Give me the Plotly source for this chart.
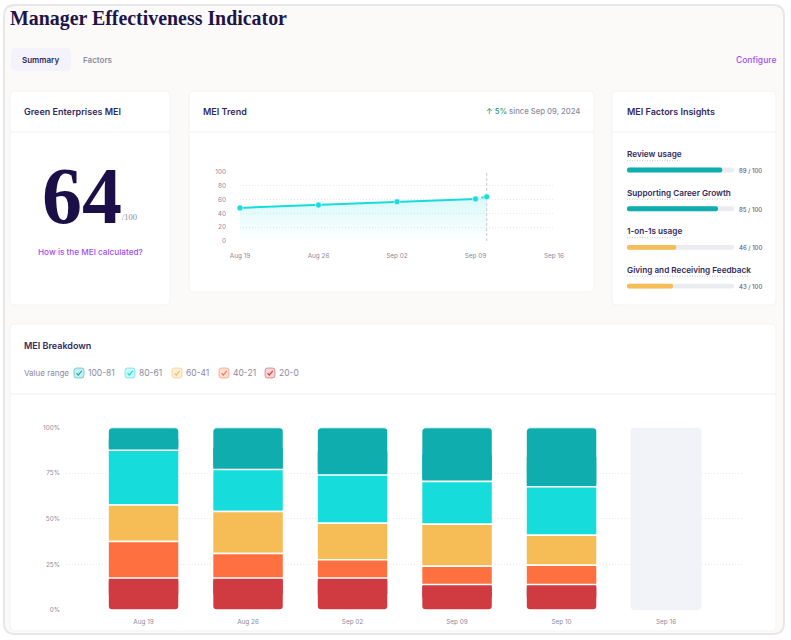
import plotly.graph_objects as go

# ---------- data ----------
trend_dates = ["2024-08-19", "2024-08-26", "2024-09-02", "2024-09-09", "2024-09-10"]
trend_values = [48, 52, 57, 61, 64]
trend_tick_dates = ["2024-08-19", "2024-08-26", "2024-09-02", "2024-09-09", "2024-09-16"]
trend_tick_labels = ["Aug 19", "Aug 26", "Sep 02", "Sep 09", "Sep 16"]
trend_y_ticks = [0, 20, 40, 60, 80, 100]

factor_names = ["Review usage", "Supporting Career Growth", "1-on-1s usage", "Giving and Receiving Feedback"]
factor_values = [89, 85, 46, 43]
factor_max = [100, 100, 100, 100]

weeks = ["Aug 19", "Aug 26", "Sep 02", "Sep 09", "Sep 10", "Sep 16"]
range_100_81 = [12.5, 23, 26, 29.5, 32.5, None]
range_80_61 = [30, 23, 26.5, 23.5, 26.5, None]
range_60_41 = [20, 23, 20, 23, 16.5, None]
range_40_21 = [20, 13.5, 10, 10, 10.5, None]
range_20_0 = [17.5, 17.5, 17.5, 14, 14, None]
no_data = [None, None, None, None, None, 100]
pct_ticks = [0, 25, 50, 75, 100]
pct_labels = ["0%", "25%", "50%", "75%", "100%"]
range_names = ["100-81", "80-61", "60-41", "40-21", "20-0"]

# ---------- style ----------
W, H = 791, 640
INK = "#1d1547"
HEAD = "#322a5c"
GREY = "#8b8aa1"
PURPLE = "#a24df0"
TEAL = "#0fadae"
CYAN = "#16dddc"
YELLOW = "#f6bc55"
ORANGE = "#ff7040"
RED = "#d03a41"
TRACK = "#eaecf0"
GRID = "#e8e8ee"
SANS = "Inter"
SERIF = "Liberation Serif"
range_colors = [TEAL, CYAN, YELLOW, ORANGE, RED]


def px(x):
    return x / W


def py(y):
    return 1 - y / H


def rgba(hex_color, a):
    r, g, b = int(hex_color[1:3], 16), int(hex_color[3:5], 16), int(hex_color[5:7], 16)
    return f"rgba({r},{g},{b},{a})"


def rrect(x0, y0, x1, y1, r, fill, line="rgba(0,0,0,0)", lw=1):
    X0, X1, Y0, Y1 = px(x0), px(x1), py(y0), py(y1)
    rx, ry = r / W, r / H
    path = (
        f"M {X0+rx} {Y0} L {X1-rx} {Y0} Q {X1} {Y0} {X1} {Y0-ry} "
        f"L {X1} {Y1+ry} Q {X1} {Y1} {X1-rx} {Y1} L {X0+rx} {Y1} "
        f"Q {X0} {Y1} {X0} {Y1+ry} L {X0} {Y0-ry} Q {X0} {Y0} {X0+rx} {Y0} Z"
    )
    return dict(type="path", xref="paper", yref="paper", path=path, fillcolor=fill,
                line=dict(color=line, width=lw), layer="below")


def hline(x0, x1, y, color="#f1f0f0", width=1, dash="solid"):
    return dict(type="line", xref="paper", yref="paper", x0=px(x0), x1=px(x1), y0=py(y), y1=py(y),
                line=dict(color=color, width=width, dash=dash), layer="below")


def txt(x, y, s, size=9, color=HEAD, weight=400, family=SANS, anchor="left"):
    return dict(xref="paper", yref="paper", x=px(x), y=py(y), text=s, showarrow=False,
                xanchor=anchor, yanchor="middle", align=anchor,
                font=dict(size=size, color=color, family=family, weight=weight),
                borderpad=0, borderwidth=0)


shapes = [rrect(4, 5, 784, 634, 11, "#fcfaf8", "#e7e7e8", 2)]
for x0, y0, x1, y1 in [(10, 91, 170, 305), (189, 91, 594, 292), (612, 91, 776, 305), (10, 324, 776, 631)]:
    shapes.append(rrect(x0, y0, x1, y1, 5, "#ffffff", "#f5f3f1", 1))
shapes += [hline(10, 170, 132), hline(189, 594, 132), hline(612, 776, 132), hline(10, 776, 394)]
shapes.append(rrect(11, 48, 71, 71, 5, "#f4f2fb"))

annotations = [
    txt(10, 19, "Manager Effectiveness Indicator", 19.9, INK, 700, SERIF),
    txt(22, 60, "Summary", 8, HEAD, 600),
    txt(83, 60, "Factors", 8, GREY, 600),
    txt(776, 60, "Configure", 8.5, PURPLE, 500, anchor="right"),
    txt(24, 111, "Green Enterprises MEI", 9, HEAD, 600),
    txt(203, 111, "MEI Trend", 9, HEAD, 600),
    txt(627, 111, "MEI Factors Insights", 9, HEAD, 600),
    txt(81.5, 196, "64", 80, "#1c0f48", 700, SERIF, "center"),
    txt(122, 217, "/100", 8.5, GREY, 400, SERIF),
    txt(90, 252, "How is the MEI calculated?", 8.2, PURPLE, 500, anchor="center"),
    txt(580, 111, '<span style="color:#1f9a6c">↑ 5%</span> since Sep 09, 2024', 7.7, GREY, 500, anchor="right"),
    txt(24, 345, "MEI Breakdown", 9, HEAD, 600),
    txt(24, 373, "Value range", 8, GREY, 400),
]

# factor labels
label_y = [154, 192.5, 231, 269.5]
underline_ends = [680, 732, 682, 749]
score_y = [170, 209, 247, 286]
for name, value, ly, ue, sy in zip(factor_names, factor_values, label_y, underline_ends, score_y):
    annotations.append(txt(627, ly, name, 8.2, HEAD, 600))
    annotations.append(txt(739, sy, f"{value} / 100", 6, "#5f5c7c", 500))
    shapes.append(hline(627, ue, ly + 6.7, "#c4c4d2", 1, "1px,1.5px"))

# checkbox legend
box_x = [79, 130, 177, 224, 270]
for name, color, bx in zip(range_names, range_colors, box_x):
    shapes.append(dict(rrect(bx - 5, 368, bx + 5, 378, 2.5, rgba(color, 0.22), rgba(color, 0.5), 1), layer="above"))
    path = (f"M {px(bx-2.5)} {py(373.2)} L {px(bx-0.7)} {py(375.2)} L {px(bx+2.7)} {py(370.8)}")
    shapes.append(dict(type="path", xref="paper", yref="paper", path=path,
                       line=dict(color=color, width=1.1), layer="above"))
    annotations.append(txt(bx + 9, 373, name, 8.5, GREY, 400))

fig = go.Figure()

# ---------- trend chart ----------
fig.add_trace(go.Scatter(x=trend_dates, y=trend_values, mode="none", fill="tozeroy", showlegend=False,
                         fillgradient=dict(type="vertical", start=0, stop=max(trend_values),
                                           colorscale=[[0, rgba(CYAN, 0.0)], [1, rgba(CYAN, 0.17)]]),
                         hoverinfo="skip", xaxis="x", yaxis="y"))
fig.add_trace(go.Scatter(x=[trend_dates[-1], trend_dates[-1]], y=[trend_y_ticks[0], trend_y_ticks[-1]],
                         mode="lines", line=dict(color="#c9ccd4", width=1, dash="3px,2px"),
                         showlegend=False, hoverinfo="skip", xaxis="x", yaxis="y"))
fig.add_trace(go.Scatter(x=trend_dates[-2:], y=trend_values[-2:], mode="lines+markers", name="MEI (partial)",
                         line=dict(color=CYAN, width=2, dash="3px,3px"), showlegend=False, cliponaxis=False,
                         marker=dict(size=6, color=CYAN, line=dict(color="#ffffff", width=0.6)),
                         xaxis="x", yaxis="y"))
fig.add_trace(go.Scatter(x=trend_dates[:-1], y=trend_values[:-1], mode="lines+markers", name="MEI",
                         line=dict(color=CYAN, width=2), showlegend=False, cliponaxis=False,
                         marker=dict(size=6, color=CYAN, line=dict(color="#ffffff", width=0.6)),
                         xaxis="x", yaxis="y"))

# ---------- factor bars ----------
zeros4 = [0] * len(factor_names)
factor_colors = [TEAL if v >= 61 else YELLOW for v in factor_values]
for vals, colors, name in [(factor_max, TRACK, "Scale"), (factor_values, factor_colors, "Score")]:
    fig.add_trace(go.Bar(y=factor_names, x=vals, base=zeros4, orientation="h", width=0.125,
                         showlegend=False, name=name,
                         marker=dict(color=colors, line=dict(width=0), cornerradius=2.5),
                         xaxis="x2", yaxis="y2"))

# ---------- breakdown ----------
BAR_W = 0.68
CAP_W = 0.665
by_name = dict(zip(range_names, [range_100_81, range_80_61, range_60_41, range_40_21, range_20_0]))
color_by_name = dict(zip(range_names, range_colors))

# floor of every segment, summed from the bottom of the column
floors = {}
running = [0] * len(weeks)
for name in range_names[::-1]:
    floors[name] = list(running)
    running = [r + (v or 0) for r, v in zip(running, by_name[name])]


def segment(name, radius):
    fig.add_trace(go.Bar(x=weeks, y=by_name[name], base=floors[name], name=name, showlegend=False, width=BAR_W,
                         marker=dict(color=color_by_name[name], line=dict(color="#ffffff", width=1.6),
                                     cornerradius=radius),
                         xaxis="x3", yaxis="y3"))


def square_off(name, keep_top):
    # based bars round all four corners; square the inner end of the column's two end segments
    vals = by_name[name]
    halves = [None if v is None else v / 2 for v in vals]
    bases = [None if v is None else f + (v / 2 if keep_top else 0) for v, f in zip(vals, floors[name])]
    fig.add_trace(go.Bar(x=weeks, y=halves, base=bases, name=name, showlegend=False, width=CAP_W,
                         marker=dict(color=color_by_name[name], line=dict(width=0), cornerradius=0),
                         hoverinfo="skip", xaxis="x3", yaxis="y3"))


segment("100-81", 4)
square_off("100-81", keep_top=False)
segment("20-0", 4)
square_off("20-0", keep_top=True)
for mid in ["80-61", "60-41", "40-21"]:
    segment(mid, 0)

fig.add_trace(go.Bar(x=weeks, y=no_data, base=[None if v is None else 0 for v in no_data],
                     name="No data", showlegend=False, width=BAR_W,
                     marker=dict(color="#f2f3f8", line=dict(width=0), cornerradius=4),
                     hoverinfo="skip", xaxis="x3", yaxis="y3"))

tick_font = dict(size=6.4, color=GREY, family=SANS)
fig.update_layout(
    width=W, height=H, autosize=False, margin=dict(l=0, r=0, t=0, b=0, pad=0, autoexpand=False),
    paper_bgcolor="#ffffff", plot_bgcolor="rgba(0,0,0,0)",
    barmode="overlay", showlegend=False, shapes=shapes, annotations=annotations,
    font=dict(family=SANS),
    xaxis=dict(domain=[px(240), px(554)], type="date", range=[trend_tick_dates[0], trend_tick_dates[-1]],
               tickmode="array", tickvals=trend_tick_dates, ticktext=trend_tick_labels, tickfont=tick_font,
               showgrid=False, zeroline=False, showline=False, ticks="", ticklabelstandoff=10, anchor="y",
               automargin=False),
    yaxis=dict(domain=[py(241), py(172)], range=[0, 100], tickmode="array", tickvals=trend_y_ticks,
               tickfont=tick_font, griddash="1px,2px", gridcolor=GRID, gridwidth=1, zeroline=False, showline=False,
               ticks="", ticklabelstandoff=13, anchor="x", automargin=False),
    xaxis2=dict(domain=[px(627), px(734)], range=[0, 100], visible=False, anchor="y2"),
    yaxis2=dict(domain=[py(305.4), py(150.7)], range=[3.5, -0.5], type="category",
                categoryorder="array", categoryarray=factor_names, visible=False, anchor="x2"),
    xaxis3=dict(domain=[px(66), px(744)], type="category", categoryorder="array", categoryarray=weeks,
                range=[-0.742, 5.746], tickfont=tick_font, showgrid=False, zeroline=False, showline=False,
                ticks="", ticklabelstandoff=7, anchor="y3", automargin=False),
    yaxis3=dict(domain=[py(610), py(427.5)], range=[0, 100], tickmode="array", tickvals=pct_ticks,
                ticktext=pct_labels, tickfont=tick_font, griddash="1px,2px", gridcolor=GRID, gridwidth=1,
                zeroline=False, showline=False, ticks="", ticklabelstandoff=5, anchor="x3", automargin=False),
)

fig.write_html("out.html", config=dict(displayModeBar=False),
               post_script="document.body.style.margin='0';document.body.style.overflow='hidden';")
